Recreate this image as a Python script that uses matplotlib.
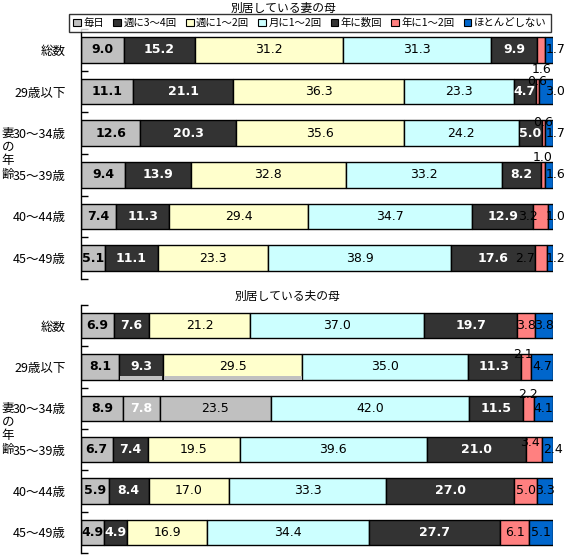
import matplotlib.pyplot as plt
import matplotlib.transforms as mtransforms
from matplotlib.patches import Patch

plt.rcParams['font.family'] = ['Noto Sans CJK JP', 'DejaVu Sans']

categories = ['総数', '29歳以下', '30～34歳', '35～39歳', '40～44歳', '45～49歳']
series = ['毎日', '週に3～4回', '週に1～2回', '月に1～2回', '年に数回', '年に1～2回', 'ほとんどしない']
colors = ['#c0c0c0', '#333333', '#ffffcc', '#ccffff', '#333333', '#ff8080', '#0066cc']

# percent per row (series order as above)
wife_mother = [
    [9.0, 15.2, 31.2, 31.3, 9.9, 1.6, 1.7],
    [11.1, 21.1, 36.3, 23.3, 4.7, 0.6, 3.0],
    [12.6, 20.3, 35.6, 24.2, 5.0, 0.6, 1.7],
    [9.4, 13.9, 32.8, 33.2, 8.2, 1.0, 1.6],
    [7.4, 11.3, 29.4, 34.7, 12.9, 3.2, 1.0],
    [5.1, 11.1, 23.3, 38.9, 17.6, 2.7, 1.2],
]
husband_mother = [
    [6.9, 7.6, 21.2, 37.0, 19.7, 3.8, 3.8],
    [8.1, 9.3, 29.5, 35.0, 11.3, 2.1, 4.7],
    [8.9, 7.8, 23.5, 42.0, 11.5, 2.2, 4.1],
    [6.7, 7.4, 19.5, 39.6, 21.0, 3.4, 2.4],
    [5.9, 8.4, 17.0, 33.3, 27.0, 5.0, 3.3],
    [4.9, 4.9, 16.9, 34.4, 27.7, 6.1, 5.1],
]

# label nudges (row, segment) -> (dx in %, dy in rows)
wife_offsets = {
    (0, 5): (0, 0.46), (1, 5): (0, -0.24), (2, 5): (0, -0.26), (3, 5): (0, -0.41),
    (4, 5): (-2.8, 0), (5, 5): (-3.4, 0),
}
husband_offsets = {
    (1, 5): (-0.7, -0.31), (2, 5): (0, -0.34), (3, 5): (-0.7, -0.17), (3, 6): (1.1, 0),
}
# segments that came out grey in the original rendering
husband_overrides = {(2, 1): ('#c0c0c0', 'white'), (2, 2): ('#c0c0c0', 'black')}


def draw_panel(ax, data, offsets, overrides, strip_row=None, right_labels=False):
    h = 0.62
    for i, row in enumerate(data):
        total = sum(row)
        left = 0
        for j, v in enumerate(row):
            w = v / total * 100
            fc = colors[j]
            tc = 'white' if fc == '#333333' else 'black'
            bold = j in (0, 1, 4)
            if (i, j) in overrides:
                fc, tc = overrides[(i, j)]
            ax.barh(i, w, left=left, height=h, color=fc, edgecolor='black',
                    linewidth=1, zorder=2)
            if strip_row == i and j in (1, 2):
                ax.barh(i + h / 2 - 0.05, w - 0.3, left=left + 0.15, height=0.09,
                        color='#c0c0c0', linewidth=0, zorder=3)
            dx, dy = offsets.get((i, j), (0, 0))
            x = left + w / 2 + dx
            if right_labels and j == 6:
                x = 100.5
            ax.text(x, i + dy, f'{v:.1f}', ha='center', va='center', fontsize=9,
                    color=tc, fontweight='bold' if bold else 'normal', zorder=4,
                    family='DejaVu Sans')
            left += w

    ax.set_xlim(0, 100)
    ax.set_ylim(len(data) - 0.5, -0.5)
    ax.set_yticks(range(len(categories)))
    ax.set_yticklabels(categories, fontsize=9)
    ax.set_yticks([k - 0.5 for k in range(len(categories) + 1)], minor=True)
    ax.tick_params(axis='y', which='major', length=0, pad=11)
    ax.tick_params(axis='y', which='minor', direction='in', length=5, width=1)
    ax.set_xticks([])
    for s in ['top', 'right', 'bottom']:
        ax.spines[s].set_visible(False)
    ax.spines['left'].set_linewidth(1)

    trans = mtransforms.blended_transform_factory(ax.figure.transFigure, ax.transData)
    for k, ch in enumerate('妻の年齢'):
        ax.text(8 / 571, 2 + k / 3, ch, transform=trans, ha='center', va='center',
                fontsize=9)


fig = plt.figure(figsize=(5.71, 5.58), dpi=100)
ax1 = fig.add_axes([81 / 571, 1 - 279 / 558, 472 / 571, 250 / 558])
ax2 = fig.add_axes([81 / 571, 1 - 553 / 558, 472 / 571, 248 / 558])

draw_panel(ax1, wife_mother, wife_offsets, {}, right_labels=True)
draw_panel(ax2, husband_mother, husband_offsets, husband_overrides, strip_row=1)

fig.text(283 / 571, 1 - 8 / 558, '別居している妻の母', ha='center', va='center', fontsize=8.5)
fig.text(287 / 571, 1 - 296 / 558, '別居している夫の母', ha='center', va='center', fontsize=8.5)

handles = [Patch(facecolor=c, edgecolor='black', linewidth=0.8) for c in colors]
leg = fig.legend(handles, series, loc='center', bbox_to_anchor=(310 / 571, 1 - 23 / 558),
                 ncol=7, fontsize=7.5, frameon=True, fancybox=False, borderpad=0.4,
                 handlelength=0.75, handleheight=0.75, handletextpad=0.25,
                 columnspacing=0.85, borderaxespad=0)
leg.get_frame().set_edgecolor('black')
leg.get_frame().set_linewidth(1)

plt.savefig('out.png', dpi=100)
